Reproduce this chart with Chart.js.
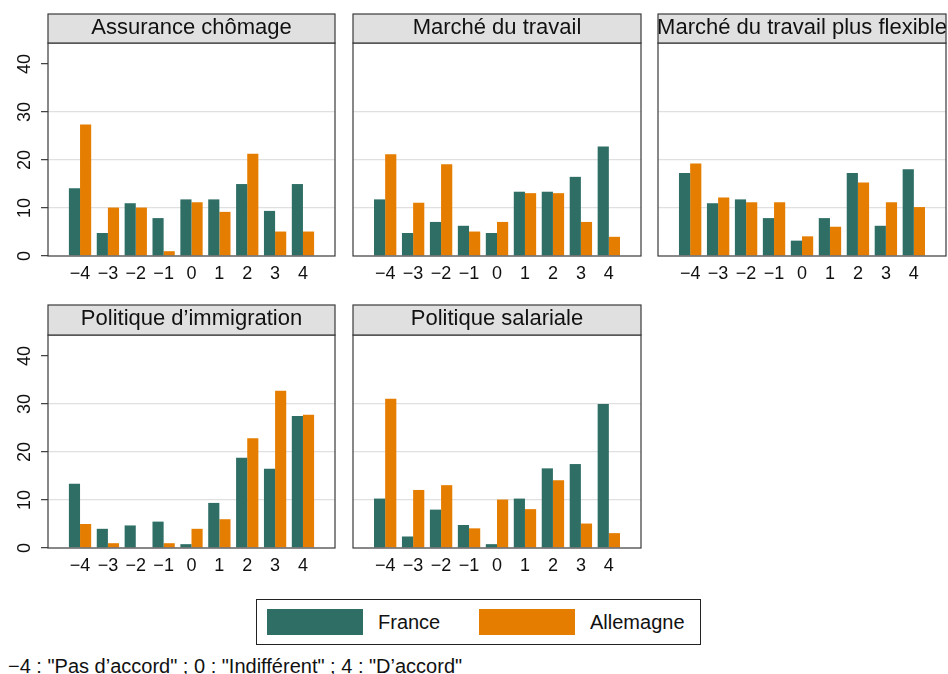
<!DOCTYPE html>
<html><head><meta charset="utf-8">
<script src="https://cdn.jsdelivr.net/npm/chart.js@4.4.0/dist/chart.umd.min.js"></script>
<style>
html,body{margin:0;padding:0;background:#fff;}
#wrap{position:relative;width:948px;height:674px;overflow:hidden;font-family:"Liberation Sans",Arial,Helvetica,sans-serif;color:#111;}
canvas{position:absolute;}
#legend{position:absolute;left:256px;top:599px;width:443px;height:44px;border:1px solid #222;}
#legend .sw{position:absolute;top:9px;width:96px;height:26px;}
#legend .lb{position:absolute;top:10px;font-size:20px;line-height:24px;white-space:nowrap;}
#note{position:absolute;left:8px;top:655px;font-size:20px;line-height:22px;white-space:nowrap;}
</style></head>
<body><div id="wrap">
<canvas id="c0"></canvas><canvas id="c1"></canvas><canvas id="c2"></canvas><canvas id="c3"></canvas><canvas id="c4"></canvas>
<div id="legend"></div>
<div id="note"></div>
</div>
<script>
// ---- data ----
const categories = [-4, -3, -2, -1, 0, 1, 2, 3, 4];
const xTickLabels = ['\u22124', '\u22123', '\u22122', '\u22121', '0', '1', '2', '3', '4'];
const yTickValues = [0, 10, 20, 30, 40];
const seriesNames = ['France', 'Allemagne'];
const panelTitles = ['Assurance chômage', 'Marché du travail', 'Marché du travail plus flexible', 'Politique d\u2019immigration', 'Politique salariale'];
const assuranceFrance    = [14.1, 4.8, 11.0, 7.9, 11.8, 11.8, 15.0, 9.4, 15.0];
const assuranceAllemagne = [27.4, 10.1, 10.1, 1.0, 11.2, 9.2, 21.3, 5.1, 5.1];
const marcheFrance       = [11.8, 4.8, 7.1, 6.3, 4.8, 13.4, 13.4, 16.5, 22.8];
const marcheAllemagne    = [21.2, 11.1, 19.1, 5.1, 7.1, 13.1, 13.1, 7.1, 4.0];
const flexibleFrance     = [17.3, 11.0, 11.8, 7.9, 3.2, 7.9, 17.3, 6.3, 18.1];
const flexibleAllemagne  = [19.3, 12.2, 11.2, 11.2, 4.1, 6.1, 15.3, 11.2, 10.2];
const immigrationFrance    = [13.4, 4.0, 4.7, 5.5, 0.8, 9.4, 18.8, 16.5, 27.5];
const immigrationAllemagne = [5.0, 1.0, 0, 1.0, 4.0, 6.0, 22.9, 32.8, 27.8];
const salarialeFrance    = [10.3, 2.4, 8.0, 4.8, 0.8, 10.3, 16.6, 17.5, 30.0];
const salarialeAllemagne = [31.1, 12.1, 13.1, 4.1, 10.1, 8.1, 14.1, 5.1, 3.1];
const noteText = '\u22124 : "Pas d\u2019accord" ; 0 : "Indifférent" ; 4 : "D\u2019accord"';

const panelSeries = [
  [assuranceFrance, assuranceAllemagne],
  [marcheFrance, marcheAllemagne],
  [flexibleFrance, flexibleAllemagne],
  [immigrationFrance, immigrationAllemagne],
  [salarialeFrance, salarialeAllemagne]
];

// ---- styles / layout ----
const colors = ['#2e6e65', '#e57e00'];
const FONT = '"Liberation Sans", Arial, Helvetica, sans-serif';
const layouts = [
  {L: 48,  R: 335, T: 43,  B: 256, H: 29, showY: true},
  {L: 353, R: 641, T: 43,  B: 256, H: 29, showY: false},
  {L: 658, R: 946, T: 43,  B: 256, H: 29, showY: false},
  {L: 48,  R: 335, T: 335, B: 548, H: 30, showY: true},
  {L: 353, R: 641, T: 335, B: 548, H: 30, showY: false}
];
const X_H = 34, PAD_R = 2;

const framePlugin = {
  id: 'frame',
  afterDatasetsDraw(chart, args, opts) {
    const {ctx, chartArea: a} = chart;
    ctx.save();
    ctx.lineWidth = 1.2;
    ctx.strokeStyle = '#3a3a3a';
    ctx.strokeRect(a.left, a.top, a.right - a.left, a.bottom - a.top);
    const H = opts.headerH;
    ctx.fillStyle = '#e0e0e0';
    ctx.fillRect(a.left, a.top - H, a.right - a.left, H);
    ctx.strokeRect(a.left, a.top - H, a.right - a.left, H);
    ctx.fillStyle = '#111';
    ctx.font = '22px ' + FONT;
    ctx.textAlign = 'center';
    ctx.textBaseline = 'alphabetic';
    ctx.fillText(opts.title, (a.left + a.right) / 2, a.top - H + 19.5);
    ctx.restore();
  }
};

layouts.forEach((lay, p) => {
  const cv = document.getElementById('c' + p);
  const left = lay.showY ? 0 : lay.L - 8;
  const top = lay.T - lay.H - 3;
  const w = lay.R + PAD_R - left;
  const h = lay.B + X_H - top;
  cv.width = w; cv.height = h;
  cv.style.left = left + 'px'; cv.style.top = top + 'px';
  cv.style.width = w + 'px'; cv.style.height = h + 'px';
  const yW = lay.L - left;

  new Chart(cv, {
    type: 'bar',
    data: {
      datasets: panelSeries[p].map((vals, s) => ({
        label: seriesNames[s],
        data: categories.map((c, i) => ({x: c, y: vals[i]})),
        backgroundColor: colors[s],
        borderWidth: 0,
        categoryPercentage: 0.8,
        barPercentage: 1.0
      }))
    },
    options: {
      responsive: false,
      animation: false,
      devicePixelRatio: 1,
      layout: {padding: {left: 0, right: PAD_R, top: lay.H + 3, bottom: 0}},
      plugins: {
        legend: {display: false},
        tooltip: {enabled: false},
        frame: {title: panelTitles[p], headerH: lay.H}
      },
      scales: {
        x: {
          type: 'linear',
          offset: false,
          min: -5.15, max: 5.15,
          afterBuildTicks: s => { s.ticks = categories.map(v => ({value: v})); },
          afterFit: s => { s.height = X_H; },
          grid: {display: false, drawTicks: false, offset: false},
          border: {display: false},
          ticks: {
            padding: 7,
            color: '#111',
            font: {family: FONT, size: 18},
            maxRotation: 0, minRotation: 0,
            callback: (v, i) => xTickLabels[i]
          }
        },
        y: {
          min: 0, max: 44.4,
          afterBuildTicks: s => { s.ticks = yTickValues.map(v => ({value: v})); },
          afterFit: s => { s.width = yW; },
          border: {display: false},
          grid: {
            drawTicks: lay.showY,
            tickLength: 7,
            tickWidth: 1.2,
            tickColor: '#3a3a3a',
            color: ctx => (ctx.tick && ctx.tick.value > 0 && ctx.tick.value < 40) ? '#e0e0e0' : 'rgba(0,0,0,0)',
            lineWidth: 1.3
          },
          ticks: {
            display: lay.showY,
            padding: 6,
            color: '#111',
            font: {family: FONT, size: 18},
            minRotation: 90, maxRotation: 90,
            crossAlign: 'center'
          }
        }
      }
    },
    plugins: [framePlugin]
  });
});

// legend + note
const legend = document.getElementById('legend');
const swLeft = [10, 222], lbLeft = [121, 333];
seriesNames.forEach((n, s) => {
  const sw = document.createElement('div');
  sw.className = 'sw'; sw.style.left = swLeft[s] + 'px'; sw.style.background = colors[s];
  legend.appendChild(sw);
  const lb = document.createElement('div');
  lb.className = 'lb'; lb.style.left = lbLeft[s] + 'px'; lb.textContent = n;
  legend.appendChild(lb);
});
document.getElementById('note').textContent = noteText;
</script>
</body></html>
